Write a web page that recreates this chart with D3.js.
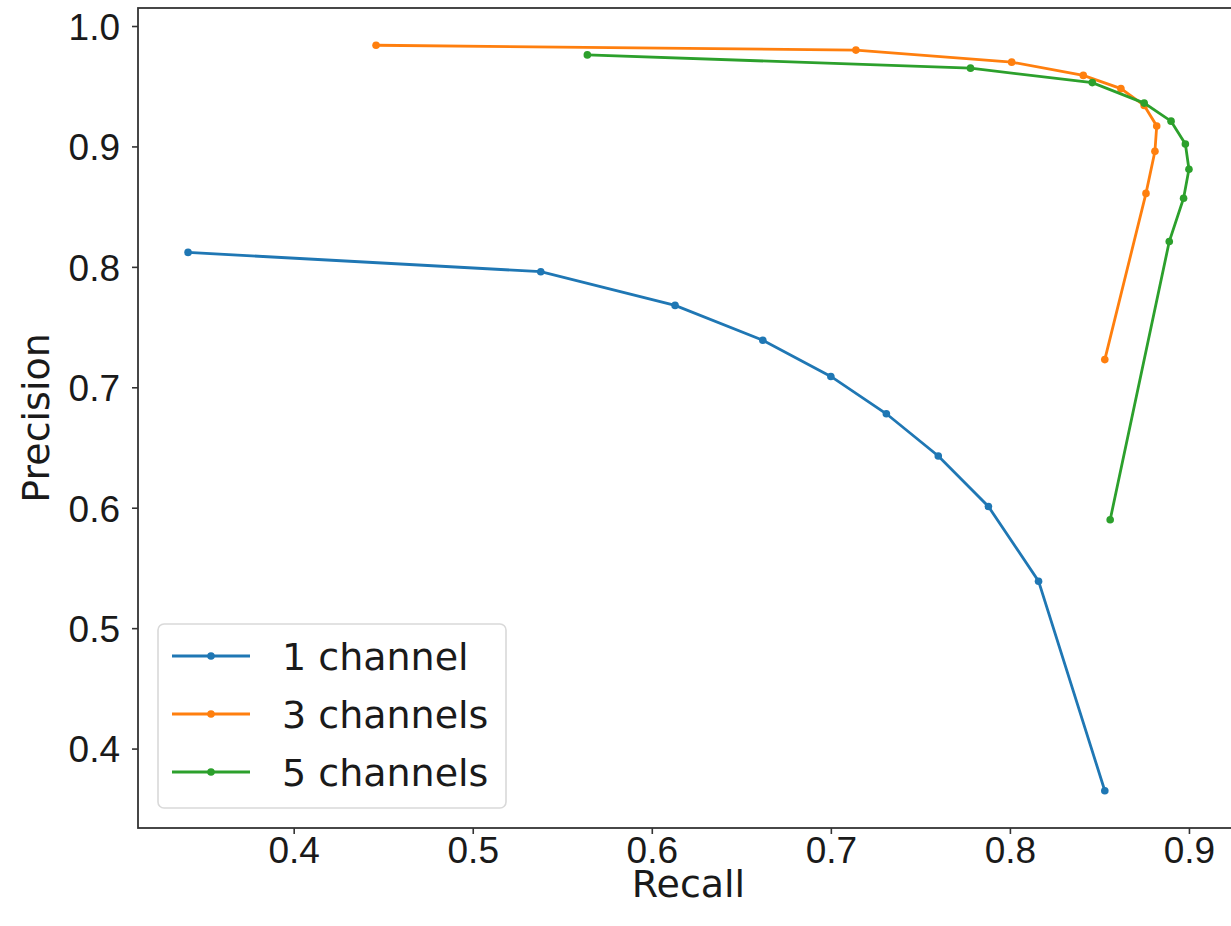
<!DOCTYPE html>
<html>
  <head>
    <meta charset="utf-8">
    <title>Precision vs Recall</title>
    <script src="https://d3js.org/d3.v7.min.js"></script>
    <style>
      body { margin: 0; background: #fff; }
      #chart { display: block; overflow: hidden; font-family: "DejaVu Sans", sans-serif; }
      .tick text { font-size: 37px; fill: #1a1a1a; }
      .tick line { stroke: #333; stroke-width: 1.6; }
      .domain { stroke: none; }
      .label { font-size: 38px; fill: #1a1a1a; }
      .legendText { font-size: 38px; fill: #1a1a1a; }
    </style>
  </head>
  <body>
    <svg id="chart" width="1231" height="926"></svg>
    <script>
      // data
      seriesNames = ["1 channel", "3 channels", "5 channels"];
      seriesColors = ["#1f77b4", "#ff7f0e", "#2ca02c"];
      recall1 = [0.341, 0.538, 0.613, 0.662, 0.700, 0.731, 0.760, 0.788, 0.816, 0.853];
      precision1 = [0.812, 0.796, 0.768, 0.739, 0.709, 0.678, 0.643, 0.601, 0.539, 0.365];
      recall3 = [0.446, 0.714, 0.801, 0.841, 0.862, 0.875, 0.882, 0.881, 0.876, 0.853];
      precision3 = [0.984, 0.980, 0.970, 0.959, 0.948, 0.934, 0.917, 0.896, 0.861, 0.723];
      recall5 = [0.564, 0.778, 0.846, 0.875, 0.890, 0.898, 0.900, 0.897, 0.889, 0.856];
      precision5 = [0.976, 0.965, 0.953, 0.936, 0.921, 0.902, 0.881, 0.857, 0.821, 0.590];
      xTicks = [0.4, 0.5, 0.6, 0.7, 0.8, 0.9];
      yTicks = [0.4, 0.5, 0.6, 0.7, 0.8, 0.9, 1.0];

      series = [
        { name: seriesNames[0], color: seriesColors[0], r: recall1, p: precision1 },
        { name: seriesNames[1], color: seriesColors[1], r: recall3, p: precision3 },
        { name: seriesNames[2], color: seriesColors[2], r: recall5, p: precision5 }
      ].map(function(s) {
        return {
          name: s.name,
          color: s.color,
          points: s.r.map(function(v, i) { return { recall: v, precision: s.p[i] }; })
        };
      });

      // layout (right spine falls just outside the picture, as in the original)
      margin = { top: 8, right: -8, bottom: 98, left: 138 };
      width = 1231;
      height = 926;
      chart = d3.select("#chart");

      // matplotlib-style 5% padding round the data
      allR = recall1.concat(recall3, recall5);
      allP = precision1.concat(precision3, precision5);
      xExt = d3.extent(allR);
      yExt = d3.extent(allP);
      xPad = (xExt[1] - xExt[0]) * 0.05;
      yPad = (yExt[1] - yExt[0]) * 0.05;
      x = d3.scaleLinear()
        .domain([xExt[0] - xPad, xExt[1] + xPad])
        .range([margin.left, width - margin.right]);
      y = d3.scaleLinear()
        .domain([yExt[0] - yPad, yExt[1] + yPad])
        .range([height - margin.bottom, margin.top]);

      // axes
      xAxis = d3.axisBottom(x)
        .tickValues(xTicks)
        .tickFormat(d3.format(".1f"))
        .tickSize(6)
        .tickPadding(3);
      yAxis = d3.axisLeft(y)
        .tickValues(yTicks)
        .tickFormat(d3.format(".1f"))
        .tickSize(6)
        .tickPadding(12);
      chart.append("g")
        .attr("transform", "translate(0, " + (height - margin.bottom) + ")")
        .call(xAxis);
      chart.append("g")
        .attr("transform", "translate(" + margin.left + ", 0)")
        .call(yAxis)
        .selectAll(".tick text")
          .attr("dy", "0.36em");

      // frame
      chart.append("rect")
        .attr("x", margin.left)
        .attr("y", margin.top)
        .attr("width", width - margin.right - margin.left)
        .attr("height", height - margin.bottom - margin.top)
        .attr("fill", "none")
        .attr("stroke", "#333")
        .attr("stroke-width", 1.8);

      // axis labels
      chart.append("text")
        .attr("class", "label")
        .attr("x", (margin.left + width - margin.right) / 2)
        .attr("y", 897)
        .attr("text-anchor", "middle")
        .text("Recall");
      chart.append("text")
        .attr("class", "label")
        .attr("transform", "translate(49, " + (margin.top + height - margin.bottom) / 2 + ") rotate(-90)")
        .attr("text-anchor", "middle")
        .text("Precision");

      // lines and markers
      line = d3.line()
        .x(function(d) { return x(d.recall); })
        .y(function(d) { return y(d.precision); });
      plots = chart.append("g")
        .selectAll("g")
        .data(series)
        .join("g");
      plots.append("path")
        .attr("d", function(d) { return line(d.points); })
        .attr("fill", "none")
        .attr("stroke", function(d) { return d.color; })
        .attr("stroke-width", 2.8);
      plots.selectAll("circle")
        .data(function(d) { return d.points.map(function(p) { return { p: p, color: d.color }; }); })
        .join("circle")
          .attr("cx", function(d) { return x(d.p.recall); })
          .attr("cy", function(d) { return y(d.p.precision); })
          .attr("r", 3.8)
          .attr("fill", function(d) { return d.color; });

      // legend
      legend = chart.append("g")
        .attr("transform", "translate(158, 624)");
      legend.append("rect")
        .attr("width", 348)
        .attr("height", 184)
        .attr("rx", 6)
        .attr("fill", "#fff")
        .attr("fill-opacity", 0.8)
        .attr("stroke", "#d9d9d9")
        .attr("stroke-width", 1.6);
      rows = legend.selectAll(".row")
        .data(series)
        .join("g")
          .attr("class", "row")
          .attr("transform", function(d, i) { return "translate(0, " + (32 + i * 58) + ")"; });
      rows.append("line")
        .attr("x1", 14)
        .attr("x2", 92)
        .attr("stroke", function(d) { return d.color; })
        .attr("stroke-width", 2.8);
      rows.append("circle")
        .attr("cx", 53)
        .attr("r", 3.8)
        .attr("fill", function(d) { return d.color; });
      rows.append("text")
        .attr("class", "legendText")
        .attr("x", 124)
        .attr("dy", "0.36em")
        .text(function(d) { return d.name; });
    </script>
  </body>
</html>
